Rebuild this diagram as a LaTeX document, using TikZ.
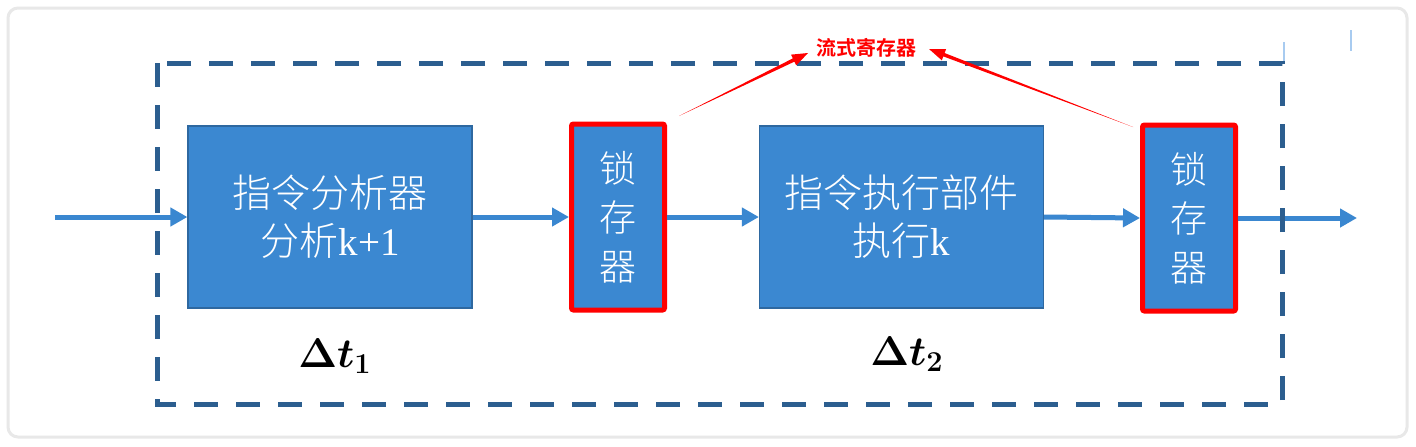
\documentclass[tikz,border=0pt]{standalone}
\usepackage{bm}
\usepackage{fontspec}
\setmainfont{Liberation Serif}
\newfontfamily\cjk{Noto Sans CJK SC}[UprightFont={* Light}, BoldFont={* Bold}]
\usetikzlibrary{arrows.meta,calc}
\definecolor{boxblue}{RGB}{59,136,209}
\definecolor{boxedge}{RGB}{46,104,160}
\definecolor{dashblue}{RGB}{44,94,143}
\definecolor{linkblue}{RGB}{58,135,208}
\definecolor{marker}{RGB}{168,203,240}
\begin{document}
\begin{tikzpicture}[x=0.5pt, y=-0.5pt,
    unit/.style={draw=boxedge, fill=boxblue, line width=0.6pt, minimum width=142pt, minimum height=91pt,
      inner sep=0pt, text=white, align=center, font=\cjk\fontsize{19.5}{24}\selectfont},
    latch/.style={draw=red, fill=boxblue, line width=2.5pt, rounded corners=1pt, minimum width=46.5pt,
      minimum height=93pt, inner sep=0pt, text=white, align=center, font=\cjk\fontsize{18.5}{24.5}\selectfont},
    link/.style={draw=linkblue, line width=2.5pt, -{Triangle[length=8.5pt,width=9pt]}},
    period/.style={font=\fontsize{19.5}{20}\selectfont}]
    \useasboundingbox (0,0) rectangle (1416,446);
    \fill[white] (0,0) rectangle (1416,446);
    \draw[gray!18, line width=1.5pt, rounded corners=5pt, fill=white] (8,8) rectangle (1407,437);
    \draw[marker, line width=1.2pt] (1284,42) -- (1284,62);
    \draw[marker, line width=1.2pt] (1351,30) -- (1351,51);
    % stages and latches
    \node[unit] (ana) at (330,217) {指令分析器\\分析{\rmfamily k+1}};
    \node[latch] (l1) at (618,217) {锁\\存\\器};
    \node[unit] (exe) at (901.5,217) {指令执行部件\\执行{\rmfamily k}};
    \node[latch] (l2) at (1189,218) {锁\\存\\器};
    \coordinate (in) at (55,217);
    \coordinate (out) at (1357,218);
    \draw[link] (in) -- (ana.west);
    \draw[link] (ana.east) -- (l1.west);
    \draw[link] (l1.east) -- (exe.west);
    \draw[link] (exe.east) -- (l2.west);
    \draw[link] (l2.east) -- (out);
    \draw[dashblue, line width=2.5pt, dash pattern=on 12pt off 9pt] (157,63) rectangle (1282,404);
    \node[period] (d1) at (335,356) {$\bm{\Delta t}_{\bm{1}}$};
    \node[period] (d2) at (907,354) {$\bm{\Delta t}_{\bm{2}}$};
    % label for the latches
    \node[text=red, font=\cjk\bfseries\fontsize{10}{12}\selectfont] (tag) at (866,48) {流式寄存器};
    \coordinate (s1) at (679,116);
    \coordinate (t1) at (808,53);
    \coordinate (s2) at (1133,127);
    \coordinate (t2) at (929,49);
    \foreach \s/\t in {s1/t1, s2/t2} {
        \path ($(\t)!8pt!(\s)$) coordinate (h);
        \fill[red] (\s) -- ($(h)!0.9pt!90:(\s)$) -- ($(h)!3pt!90:(\s)$) -- (\t)
            -- ($(h)!3pt!-90:(\s)$) -- ($(h)!0.9pt!-90:(\s)$) -- cycle;
    }
\end{tikzpicture}
\end{document}
